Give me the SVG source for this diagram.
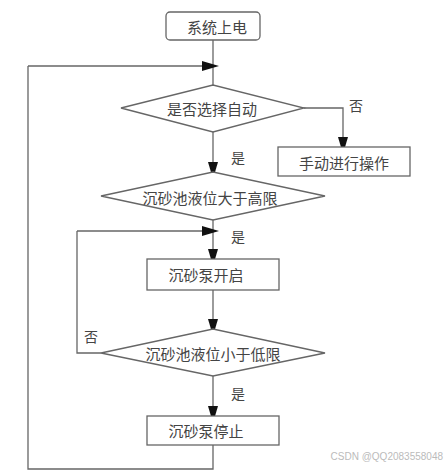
<svg xmlns="http://www.w3.org/2000/svg" width="447" height="472" viewBox="0 0 447 472">
<style>
.s{fill:#fff;stroke:#666;stroke-width:1.3}
.t{font-family:"Noto Sans CJK SC","Noto Sans",sans-serif;font-size:15px;fill:#444;text-anchor:middle;dominant-baseline:central}
.l{font-family:"Noto Sans CJK SC","Noto Sans",sans-serif;font-size:14px;fill:#444;dominant-baseline:central}
.c{fill:none;stroke:#666;stroke-width:1.3}
</style>
<defs>
<marker id="a" viewBox="0 0 10 10" refX="10" refY="5" markerWidth="10" markerHeight="10" markerUnits="userSpaceOnUse" orient="auto" overflow="visible">
<path d="M0,0 L10,5 L0,10 Z" fill="#111" transform="scale(1.7,1)"/>
</marker>
</defs>
<rect width="447" height="472" fill="#fff"/>
<g id="connectors">
<path class="c" d="M213,40 V85"/>
<path class="c" d="M28,66 H212" marker-end="url(#a)"/>
<path class="c" d="M304,108 H343 V147" marker-end="url(#a)"/>
<path class="c" d="M213,132 V172" marker-end="url(#a)"/>
<path class="c" d="M213,220 V259" marker-end="url(#a)"/>
<path class="c" d="M77,231 H212" marker-end="url(#a)"/>
<path class="c" d="M213,290 V329" marker-end="url(#a)"/>
<path class="c" d="M101,353 H77 V231"/>
<path class="c" d="M213,376 V416" marker-end="url(#a)"/>
<path class="c" d="M213,445 V469 H28 V66"/>
<text class="l" x="349" y="105">否</text>
<text class="l" x="231" y="157">是</text>
<text class="l" x="231" y="236">是</text>
<text class="l" x="84" y="336">否</text>
<text class="l" x="231" y="393">是</text>
</g>
<g id="n1">
<rect class="s" x="166" y="12" width="94" height="28" rx="4"/>
<text class="t" x="217" y="26">系统上电</text>
</g>
<g id="n2">
<polygon class="s" points="121,108 213,85 304,108 213,132"/>
<text class="t" x="212" y="108">是否选择自动</text>
</g>
<g id="n3">
<rect class="s" x="278" y="147" width="132" height="29"/>
<text class="t" x="344" y="162">手动进行操作</text>
</g>
<g id="n4">
<polygon class="s" points="101,196 213,172 325,196 213,220"/>
<text class="t" x="210" y="197">沉砂池液位大于高限</text>
</g>
<g id="n5">
<rect class="s" x="147" y="259" width="132" height="31"/>
<text class="t" x="206" y="274">沉砂泵开启</text>
</g>
<g id="n6">
<polygon class="s" points="101,353 213,329 325,353 213,376"/>
<text class="t" x="213" y="353">沉砂池液位小于低限</text>
</g>
<g id="n7">
<rect class="s" x="147" y="416" width="132" height="29"/>
<text class="t" x="206" y="430">沉砂泵停止</text>
</g>
<text x="443" y="460" font-family="Liberation Sans,sans-serif" font-size="10" fill="#bbb" text-anchor="end">CSDN @QQ2083558048</text>
</svg>
